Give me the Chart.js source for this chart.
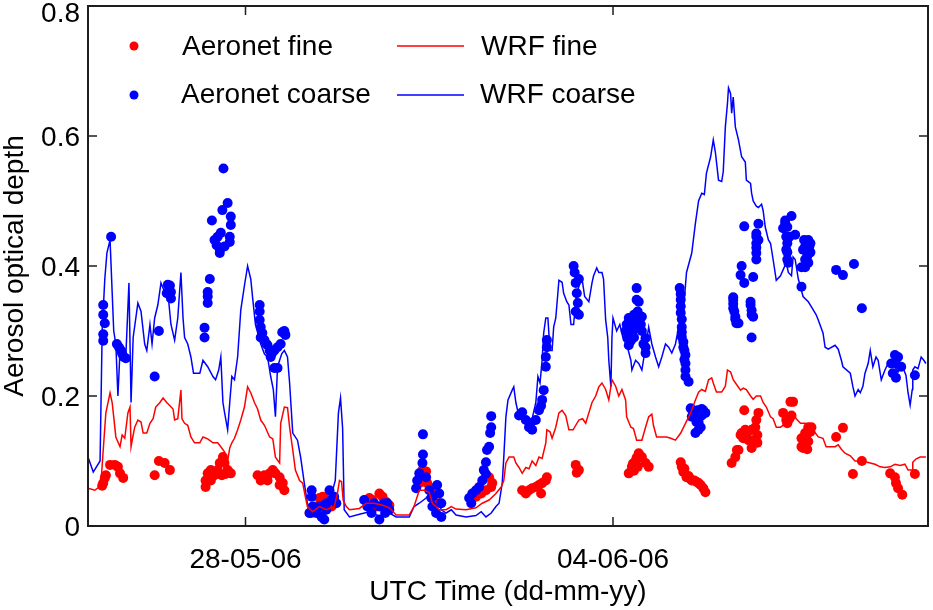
<!DOCTYPE html>
<html><head><meta charset="utf-8">
<script src="https://cdn.jsdelivr.net/npm/chart.js@4.4.1/dist/chart.umd.min.js"></script>
<style>html,body{margin:0;padding:0;background:#fff;}canvas{display:block;}</style>
</head><body>
<canvas id="c" width="933" height="610"></canvas>
<script>
// x in days since 25-05-06 00:00 UTC
const xTickValues = [3, 10];
const xTickLabels = ['28-05-06', '04-06-06'];
const yTickValues = [0, 0.2, 0.4, 0.6, 0.8];
const yTickLabels = ['0', '0.2', '0.4', '0.6', '0.8'];
const xTitle = 'UTC Time (dd-mm-yy)';
const yTitle = 'Aerosol optical depth';
const seriesNames = ['Aeronet fine', 'Aeronet coarse', 'WRF fine', 'WRF coarse'];

const wrfCoarseTime = [0,0.10,0.23,0.27,0.32,0.36,0.42,0.46,0.49,0.53,0.57,0.61,0.67,0.72,0.78,0.82,0.86,0.95,1.01,1.08,1.12,1.18,1.22,1.27,1.33,1.39,1.46,1.52,1.58,1.65,1.71,1.77,1.81,1.84,1.90,1.96,2.01,2.13,2.19,2.28,2.38,2.43,2.49,2.53,2.57,2.60,2.66,2.70,2.74,2.79,2.85,2.91,2.98,3.04,3.10,3.14,3.19,3.29,3.36,3.42,3.48,3.53,3.57,3.61,3.69,3.74,3.80,3.84,3.90,3.99,4.05,4.12,4.18,4.22,4.31,4.41,4.50,4.60,4.66,4.71,4.77,4.81,4.85,4.88,4.98,5.17,5.36,5.55,5.74,5.87,6.12,6.21,6.31,6.44,6.56,6.63,6.73,6.82,6.92,7.01,7.20,7.39,7.49,7.58,7.68,7.77,7.83,7.89,7.92,7.96,8.00,8.08,8.11,8.15,8.21,8.34,8.46,8.53,8.57,8.61,8.65,8.68,8.72,8.76,8.80,8.84,8.87,8.91,8.97,9.03,9.06,9.12,9.16,9.20,9.25,9.29,9.39,9.42,9.46,9.54,9.60,9.63,9.69,9.73,9.79,9.82,9.86,9.90,9.92,9.96,9.98,10.00,10.07,10.13,10.20,10.26,10.34,10.36,10.43,10.49,10.55,10.62,10.68,10.74,10.81,10.87,10.93,11.00,11.06,11.12,11.19,11.25,11.31,11.34,11.40,11.50,11.57,11.63,11.69,11.74,11.78,11.86,11.91,11.95,12.01,12.07,12.10,12.14,12.18,12.20,12.24,12.26,12.29,12.33,12.39,12.45,12.52,12.54,12.62,12.64,12.67,12.73,12.77,12.83,12.86,12.90,12.96,13.00,13.05,13.11,13.19,13.24,13.30,13.34,13.40,13.43,13.47,13.53,13.57,13.62,13.72,13.78,13.87,13.91,14.00,14.04,14.10,14.23,14.29,14.35,14.38,14.52,14.57,14.61,14.67,14.71,14.76,14.80,14.86,14.90,14.95,15.01,15.05,15.11,15.18,15.24,15.30,15.37,15.43,15.49,15.54,15.58,15.62,15.66,15.70,15.71,15.75,15.81,15.87,15.92,15.96];
const wrfCoarseAod = [0.106,0.083,0.10,0.30,0.38,0.42,0.44,0.36,0.30,0.28,0.20,0.27,0.26,0.26,0.374,0.19,0.29,0.343,0.33,0.28,0.27,0.31,0.28,0.32,0.34,0.374,0.36,0.36,0.31,0.286,0.32,0.39,0.32,0.29,0.28,0.26,0.235,0.235,0.255,0.245,0.23,0.225,0.24,0.26,0.19,0.175,0.148,0.19,0.23,0.225,0.26,0.332,0.37,0.40,0.38,0.348,0.31,0.28,0.265,0.26,0.23,0.21,0.168,0.245,0.265,0.27,0.26,0.22,0.143,0.132,0.106,0.066,0.035,0.02,0.02,0.025,0.015,0.04,0.055,0.07,0.174,0.197,0.15,0.025,0.014,0.018,0.022,0.015,0.02,0.014,0.014,0.03,0.035,0.043,0.055,0.045,0.025,0.02,0.025,0.017,0.014,0.016,0.022,0.014,0.02,0.03,0.035,0.066,0.106,0.168,0.194,0.209,0.214,0.19,0.168,0.165,0.165,0.19,0.23,0.22,0.255,0.297,0.32,0.32,0.27,0.27,0.306,0.32,0.378,0.375,0.358,0.345,0.34,0.31,0.31,0.348,0.383,0.375,0.353,0.345,0.374,0.385,0.397,0.39,0.39,0.38,0.317,0.29,0.255,0.214,0.29,0.32,0.30,0.31,0.286,0.28,0.255,0.24,0.255,0.25,0.24,0.275,0.306,0.28,0.26,0.245,0.26,0.28,0.275,0.266,0.28,0.306,0.31,0.33,0.39,0.42,0.466,0.50,0.512,0.51,0.543,0.568,0.594,0.575,0.532,0.53,0.545,0.614,0.65,0.674,0.665,0.635,0.66,0.614,0.594,0.568,0.56,0.532,0.527,0.512,0.50,0.492,0.49,0.495,0.485,0.46,0.44,0.435,0.41,0.378,0.385,0.394,0.405,0.39,0.385,0.414,0.41,0.38,0.368,0.353,0.345,0.337,0.325,0.317,0.297,0.275,0.272,0.278,0.272,0.255,0.245,0.235,0.214,0.20,0.21,0.205,0.215,0.235,0.25,0.27,0.245,0.26,0.255,0.225,0.24,0.25,0.255,0.245,0.237,0.245,0.24,0.232,0.205,0.186,0.21,0.24,0.245,0.242,0.26,0.255,0.25];

const wrfFineTime = [0,0.13,0.21,0.25,0.29,0.34,0.42,0.46,0.49,0.53,0.61,0.65,0.70,0.76,0.80,0.82,0.86,0.89,0.95,1.01,1.05,1.12,1.18,1.24,1.29,1.37,1.43,1.50,1.56,1.62,1.65,1.71,1.77,1.79,1.84,1.90,1.96,2.03,2.13,2.19,2.28,2.38,2.47,2.53,2.60,2.66,2.70,2.74,2.79,2.85,2.91,2.98,3.04,3.10,3.17,3.23,3.29,3.36,3.46,3.52,3.57,3.65,3.67,3.74,3.80,3.84,3.90,3.95,4.03,4.09,4.14,4.18,4.28,4.41,4.54,4.69,4.75,4.79,4.83,4.86,4.92,4.98,5.17,5.30,5.45,5.61,5.74,5.87,6.12,6.21,6.31,6.40,6.50,6.56,6.69,6.82,6.92,7.01,7.20,7.39,7.51,7.64,7.77,7.87,7.92,7.96,8.02,8.11,8.15,8.21,8.27,8.34,8.40,8.46,8.53,8.59,8.65,8.72,8.74,8.80,8.84,8.91,8.97,9.03,9.10,9.16,9.24,9.29,9.35,9.42,9.48,9.54,9.60,9.67,9.73,9.79,9.86,9.92,9.98,10.05,10.11,10.17,10.24,10.26,10.34,10.39,10.45,10.55,10.62,10.68,10.74,10.77,10.83,10.93,11.02,11.10,11.19,11.29,11.38,11.48,11.57,11.63,11.69,11.76,11.82,11.88,11.91,11.97,12.07,12.14,12.18,12.24,12.29,12.35,12.43,12.48,12.54,12.62,12.67,12.73,12.81,12.86,12.92,13.00,13.05,13.11,13.19,13.24,13.30,13.36,13.43,13.49,13.57,13.66,13.76,13.81,13.91,14.00,14.06,14.16,14.23,14.29,14.35,14.42,14.52,14.61,14.71,14.80,14.90,14.99,15.09,15.18,15.28,15.37,15.47,15.56,15.62,15.70,15.71,15.77,15.85,15.96];
const wrfFineAod = [0.058,0.055,0.06,0.07,0.117,0.174,0.205,0.19,0.168,0.137,0.122,0.14,0.135,0.174,0.183,0.122,0.14,0.152,0.163,0.16,0.143,0.143,0.158,0.165,0.183,0.19,0.197,0.19,0.185,0.18,0.163,0.165,0.209,0.165,0.158,0.155,0.137,0.128,0.128,0.137,0.134,0.128,0.128,0.122,0.114,0.10,0.12,0.128,0.135,0.148,0.163,0.183,0.214,0.205,0.19,0.18,0.163,0.155,0.137,0.134,0.106,0.097,0.158,0.183,0.182,0.152,0.117,0.086,0.07,0.066,0.045,0.03,0.022,0.03,0.025,0.03,0.05,0.07,0.068,0.04,0.03,0.025,0.027,0.035,0.035,0.032,0.028,0.017,0.017,0.03,0.055,0.055,0.052,0.035,0.025,0.025,0.03,0.026,0.025,0.028,0.035,0.04,0.05,0.06,0.07,0.097,0.106,0.106,0.097,0.09,0.081,0.09,0.088,0.10,0.093,0.106,0.104,0.128,0.148,0.145,0.135,0.152,0.174,0.178,0.17,0.148,0.148,0.155,0.163,0.165,0.158,0.174,0.19,0.20,0.214,0.22,0.21,0.194,0.225,0.215,0.20,0.21,0.194,0.168,0.152,0.15,0.132,0.132,0.152,0.168,0.172,0.155,0.137,0.137,0.137,0.135,0.132,0.143,0.158,0.174,0.194,0.206,0.21,0.207,0.225,0.228,0.22,0.206,0.206,0.215,0.24,0.237,0.225,0.218,0.209,0.212,0.21,0.20,0.195,0.20,0.20,0.19,0.183,0.168,0.165,0.152,0.152,0.155,0.174,0.17,0.174,0.165,0.158,0.158,0.152,0.148,0.137,0.135,0.122,0.122,0.122,0.125,0.118,0.112,0.108,0.10,0.10,0.099,0.097,0.095,0.091,0.09,0.091,0.095,0.093,0.095,0.086,0.086,0.098,0.103,0.106,0.106];

const aeroCoarseTime = [0.29,0.29,0.32,0.29,0.29,0.44,0.55,0.59,0.63,0.68,0.72,0.65,1.27,1.35,1.52,1.58,1.58,1.50,1.56,2.22,2.22,2.28,2.28,2.28,2.32,2.58,2.66,2.56,2.36,2.72,2.72,2.53,2.41,2.45,2.51,2.51,2.70,2.70,2.47,2.60,3.27,3.27,3.27,3.29,3.32,3.36,3.42,3.46,3.48,3.55,3.61,3.67,3.70,3.74,3.76,3.55,3.61,3.29,3.40,3.50,4.26,4.26,4.28,4.22,4.35,4.45,4.50,4.54,4.60,4.64,4.69,4.73,4.41,4.54,5.26,5.32,5.40,5.45,5.55,5.55,5.64,5.70,5.66,5.74,6.38,6.38,6.37,6.31,6.27,6.25,6.44,6.50,6.54,6.56,6.65,6.69,6.73,6.73,6.63,7.26,7.32,7.39,7.45,7.51,7.54,7.58,7.60,7.64,7.66,7.68,7.68,7.58,7.30,8.27,8.34,8.40,8.46,8.53,8.59,8.63,8.65,8.68,8.72,8.72,8.74,8.74,8.21,8.43,9.25,9.27,9.29,9.31,9.33,9.35,9.29,9.35,10.45,10.45,10.47,10.43,10.34,10.26,10.24,10.34,10.30,10.55,10.62,10.62,10.62,10.49,10.36,10.30,10.32,10.38,10.40,10.45,10.40,10.28,10.34,10.55,10.58,10.53,11.27,11.29,11.29,11.31,11.31,11.34,11.38,11.38,11.38,11.44,11.29,11.29,11.31,11.31,11.34,11.36,11.36,11.38,11.48,11.50,11.63,11.67,11.63,11.72,11.76,11.69,11.57,11.53,11.57,11.59,11.65,11.69,11.61,12.29,12.29,12.33,12.39,12.62,12.64,12.67,12.64,12.50,12.77,12.73,12.73,12.73,12.73,12.45,12.43,12.50,12.67,12.29,12.29,12.31,12.33,12.35,12.62,12.64,12.73,12.73,12.77,13.40,13.28,13.24,13.30,13.47,13.32,13.32,13.72,13.66,13.62,13.76,13.66,13.72,13.59,13.76,13.28,13.32,13.36,13.32,13.30,13.34,13.64,13.70,13.74,13.70,13.66,13.59,14.25,14.38,14.59,14.74,15.37,15.43,15.30,15.39,15.49,15.33,15.39,15.75];
const aeroCoarseAod = [0.34,0.325,0.312,0.295,0.285,0.445,0.28,0.275,0.27,0.26,0.258,0.265,0.23,0.30,0.371,0.36,0.35,0.358,0.37,0.29,0.305,0.343,0.353,0.36,0.38,0.55,0.497,0.486,0.47,0.476,0.463,0.451,0.44,0.432,0.425,0.42,0.445,0.437,0.445,0.43,0.34,0.33,0.317,0.306,0.297,0.286,0.278,0.27,0.26,0.27,0.275,0.28,0.298,0.30,0.294,0.243,0.243,0.29,0.28,0.265,0.055,0.045,0.03,0.02,0.02,0.014,0.01,0.025,0.055,0.04,0.045,0.035,0.03,0.035,0.04,0.03,0.02,0.035,0.01,0.03,0.035,0.035,0.02,0.025,0.141,0.11,0.097,0.081,0.07,0.058,0.075,0.055,0.043,0.03,0.063,0.05,0.035,0.014,0.02,0.043,0.05,0.055,0.06,0.07,0.086,0.098,0.117,0.122,0.143,0.152,0.169,0.08,0.035,0.175,0.163,0.152,0.148,0.163,0.178,0.185,0.194,0.209,0.245,0.26,0.275,0.286,0.17,0.158,0.40,0.39,0.374,0.358,0.343,0.325,0.33,0.38,0.366,0.348,0.33,0.322,0.317,0.31,0.30,0.30,0.278,0.322,0.289,0.275,0.266,0.345,0.306,0.32,0.31,0.30,0.29,0.31,0.325,0.29,0.285,0.30,0.28,0.31,0.366,0.348,0.328,0.306,0.291,0.275,0.263,0.25,0.23,0.222,0.357,0.338,0.318,0.298,0.283,0.27,0.256,0.24,0.181,0.168,0.16,0.152,0.148,0.178,0.174,0.18,0.143,0.175,0.17,0.16,0.168,0.17,0.178,0.348,0.335,0.322,0.312,0.345,0.332,0.322,0.29,0.461,0.465,0.445,0.435,0.42,0.41,0.40,0.386,0.374,0.383,0.352,0.342,0.33,0.318,0.312,0.34,0.325,0.45,0.428,0.44,0.477,0.466,0.458,0.445,0.448,0.421,0.41,0.44,0.43,0.425,0.421,0.41,0.405,0.398,0.435,0.47,0.46,0.445,0.435,0.425,0.405,0.44,0.415,0.43,0.43,0.398,0.368,0.394,0.386,0.403,0.335,0.263,0.26,0.25,0.25,0.245,0.235,0.228,0.232];

const aeroFineTime = [0.29,0.32,0.27,0.34,0.42,0.51,0.57,0.61,0.67,1.27,1.35,1.46,1.56,2.24,2.24,2.28,2.34,2.41,2.47,2.51,2.57,2.60,2.66,2.72,2.55,2.34,2.62,3.23,3.29,3.36,3.46,3.52,3.57,3.65,3.71,3.74,3.42,3.65,4.22,4.26,4.41,4.47,4.54,4.56,4.35,4.64,5.30,5.36,5.42,5.55,5.61,5.68,5.74,5.49,6.37,6.44,6.46,6.54,6.31,6.56,6.69,7.32,7.39,7.49,7.58,7.68,7.70,7.64,8.27,8.34,8.40,8.46,8.53,8.59,8.63,8.65,8.72,8.74,9.29,9.35,9.31,10.30,10.36,10.43,10.49,10.55,10.62,10.68,10.47,10.38,10.40,10.51,10.45,11.29,11.31,11.34,11.40,11.50,11.59,11.67,11.72,11.76,11.36,11.44,11.48,11.55,11.63,12.26,12.33,12.39,12.45,12.52,12.58,12.64,12.67,12.64,12.71,12.73,12.77,12.50,12.43,12.54,12.58,12.48,12.75,12.75,12.36,13.24,13.30,13.32,13.43,13.38,13.36,13.40,13.59,13.62,13.66,13.72,13.78,13.69,13.59,13.62,13.66,13.72,13.76,13.70,14.25,14.38,14.57,14.74,15.28,15.37,15.39,15.43,15.51,15.75];
const aeroFineAod = [0.066,0.074,0.062,0.078,0.094,0.094,0.091,0.081,0.074,0.078,0.10,0.097,0.086,0.06,0.07,0.081,0.086,0.078,0.086,0.097,0.106,0.097,0.086,0.081,0.078,0.07,0.08,0.078,0.07,0.078,0.081,0.086,0.081,0.075,0.066,0.055,0.07,0.063,0.02,0.02,0.043,0.045,0.043,0.035,0.03,0.03,0.04,0.043,0.04,0.05,0.045,0.037,0.032,0.03,0.086,0.084,0.066,0.058,0.066,0.045,0.035,0.043,0.045,0.05,0.055,0.06,0.066,0.075,0.055,0.05,0.055,0.058,0.06,0.063,0.05,0.066,0.07,0.075,0.094,0.086,0.082,0.081,0.091,0.10,0.112,0.106,0.097,0.091,0.091,0.096,0.085,0.105,0.105,0.098,0.091,0.083,0.075,0.07,0.068,0.063,0.058,0.052,0.088,0.077,0.072,0.07,0.066,0.097,0.106,0.117,0.143,0.148,0.146,0.148,0.132,0.12,0.152,0.163,0.174,0.178,0.14,0.137,0.132,0.135,0.14,0.128,0.117,0.174,0.163,0.158,0.191,0.191,0.165,0.17,0.122,0.132,0.143,0.152,0.152,0.14,0.135,0.12,0.125,0.13,0.145,0.118,0.137,0.151,0.08,0.10,0.081,0.075,0.066,0.058,0.048,0.08];

const RED = '#ff0000', BLUE = '#0000ff';
const FONT = '28px "Liberation Sans", Arial, Helvetica, sans-serif';
const toXY = (t, v) => t.map((x, i) => ({ x: x, y: v[i] }));

const decor = {
  id: 'decor',
  afterDraw(chart) {
    const ctx = chart.ctx, a = chart.chartArea, xs = chart.scales.x, ys = chart.scales.y;
    ctx.save();
    ctx.strokeStyle = '#1e1e1e';
    ctx.lineWidth = 2;
    ctx.strokeRect(a.left, a.top, a.right - a.left, a.bottom - a.top);
    ctx.lineWidth = 1.5;
    ctx.beginPath();
    xTickValues.forEach(v => {
      const px = xs.getPixelForValue(v);
      ctx.moveTo(px, a.bottom); ctx.lineTo(px, a.bottom - 9);
      ctx.moveTo(px, a.top); ctx.lineTo(px, a.top + 9);
    });
    yTickValues.forEach(v => {
      const py = ys.getPixelForValue(v);
      ctx.moveTo(a.left, py); ctx.lineTo(a.left + 9, py);
      ctx.moveTo(a.right, py); ctx.lineTo(a.right - 9, py);
    });
    ctx.stroke();

    ctx.fillStyle = '#000';
    ctx.font = FONT;
    ctx.textBaseline = 'alphabetic';
    ctx.textAlign = 'center';
    xTickValues.forEach((v, i) => ctx.fillText(xTickLabels[i], xs.getPixelForValue(v), a.bottom + 42));
    ctx.textAlign = 'right';
    yTickValues.forEach((v, i) => ctx.fillText(yTickLabels[i], a.left - 8, Math.max(ys.getPixelForValue(v) + 10, a.top + 16)));
    ctx.textAlign = 'center';
    ctx.fillText(xTitle, (a.left + a.right) / 2, a.bottom + 74);
    ctx.save();
    ctx.translate(23, (a.top + a.bottom) / 2);
    ctx.rotate(-Math.PI / 2);
    ctx.fillText(yTitle, 0, 0);
    ctx.restore();

    // legend
    const L = a.left;
    ctx.textAlign = 'left';
    ctx.fillStyle = RED;
    ctx.beginPath(); ctx.arc(L + 46, a.top + 40, 4.5, 0, Math.PI * 2); ctx.fill();
    ctx.fillStyle = BLUE;
    ctx.beginPath(); ctx.arc(L + 46, a.top + 89, 4.5, 0, Math.PI * 2); ctx.fill();
    ctx.lineWidth = 1.5;
    ctx.strokeStyle = RED;
    ctx.beginPath(); ctx.moveTo(L + 309, a.top + 40); ctx.lineTo(L + 376, a.top + 40); ctx.stroke();
    ctx.strokeStyle = BLUE;
    ctx.beginPath(); ctx.moveTo(L + 309, a.top + 89); ctx.lineTo(L + 376, a.top + 89); ctx.stroke();
    ctx.fillStyle = '#000';
    ctx.fillText(seriesNames[0], L + 94, a.top + 49);
    ctx.fillText(seriesNames[1], L + 93, a.top + 97);
    ctx.fillText(seriesNames[2], L + 393, a.top + 49);
    ctx.fillText(seriesNames[3], L + 392, a.top + 97);
    ctx.restore();
  }
};

new Chart(document.getElementById('c'), {
  type: 'scatter',
  data: {
    datasets: [
      { label: seriesNames[2], data: toXY(wrfFineTime, wrfFineAod), showLine: true, borderColor: RED, borderWidth: 1.5, pointRadius: 0, tension: 0 },
      { label: seriesNames[3], data: toXY(wrfCoarseTime, wrfCoarseAod), showLine: true, borderColor: BLUE, borderWidth: 1.5, pointRadius: 0, tension: 0 },
      { label: seriesNames[1], data: toXY(aeroCoarseTime, aeroCoarseAod), pointRadius: 5, pointBorderWidth: 0, backgroundColor: BLUE, borderColor: BLUE },
      { label: seriesNames[0], data: toXY(aeroFineTime, aeroFineAod), pointRadius: 5, pointBorderWidth: 0, backgroundColor: RED, borderColor: RED }
    ]
  },
  options: {
    responsive: false,
    animation: false,
    layout: { padding: { top: 6, right: 3, left: 0, bottom: 0 } },
    plugins: { legend: { display: false }, tooltip: { enabled: false } },
    scales: {
      x: {
        type: 'linear', min: 0, max: 16,
        grid: { display: false }, border: { display: false },
        ticks: { display: false },
        afterBuildTicks: s => { s.ticks = xTickValues.map(v => ({ value: v })); },
        afterFit: s => { s.height = 84; }
      },
      y: {
        type: 'linear', min: 0, max: 0.8,
        grid: { display: false }, border: { display: false },
        ticks: { display: false },
        afterBuildTicks: s => { s.ticks = yTickValues.map(v => ({ value: v })); },
        afterFit: s => { s.width = 88; }
      }
    }
  },
  plugins: [decor]
});
</script>
</body></html>
